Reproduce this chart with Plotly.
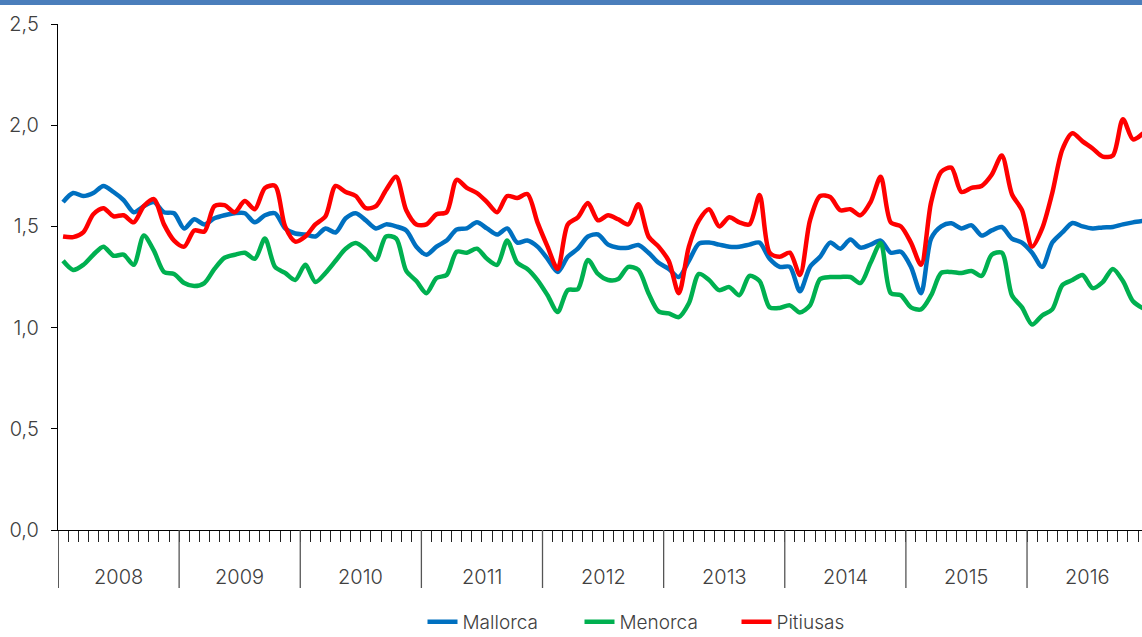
import plotly.graph_objects as go

years = ["2008", "2009", "2010", "2011", "2012", "2013", "2014", "2015", "2016"]
months_per_year = 12

mallorca = [
    1.62, 1.665, 1.65, 1.665, 1.70, 1.67, 1.63, 1.57, 1.60, 1.62, 1.57, 1.565,
    1.49, 1.535, 1.51, 1.54, 1.555, 1.565, 1.565, 1.52, 1.555, 1.565, 1.49, 1.465,
    1.46, 1.45, 1.49, 1.47, 1.54, 1.565, 1.53, 1.49, 1.51, 1.50, 1.48, 1.40,
    1.36, 1.40, 1.43, 1.485, 1.49, 1.52, 1.49, 1.46, 1.49, 1.42, 1.43, 1.40,
    1.34, 1.275, 1.35, 1.39, 1.45, 1.46, 1.41, 1.395, 1.395, 1.408, 1.37, 1.32,
    1.29, 1.25, 1.33, 1.415, 1.42, 1.41, 1.40, 1.40, 1.41, 1.42, 1.34, 1.30,
    1.30, 1.18, 1.30, 1.35, 1.42, 1.39, 1.435, 1.395, 1.41, 1.43, 1.37, 1.375,
    1.30, 1.17, 1.44, 1.50, 1.515, 1.49, 1.505, 1.455, 1.48, 1.497, 1.44, 1.42,
    1.37, 1.30, 1.42, 1.47, 1.517, 1.50, 1.49, 1.495, 1.497, 1.51, 1.52, 1.527,
]

menorca = [
    1.33, 1.285, 1.31, 1.36, 1.40, 1.355, 1.36, 1.31, 1.455, 1.38, 1.275, 1.265,
    1.22, 1.205, 1.22, 1.29, 1.345, 1.36, 1.37, 1.34, 1.44, 1.30, 1.27, 1.235,
    1.31, 1.225, 1.27, 1.33, 1.39, 1.418, 1.385, 1.335, 1.45, 1.44, 1.28, 1.23,
    1.17, 1.245, 1.26, 1.375, 1.37, 1.39, 1.34, 1.31, 1.43, 1.32, 1.29, 1.235,
    1.16, 1.077, 1.185, 1.19, 1.334, 1.265, 1.235, 1.24, 1.30, 1.285, 1.17, 1.08,
    1.07, 1.052, 1.12, 1.265, 1.235, 1.185, 1.20, 1.16, 1.255, 1.23, 1.10, 1.097,
    1.11, 1.075, 1.11, 1.24, 1.25, 1.25, 1.25, 1.22, 1.32, 1.418, 1.17, 1.16,
    1.10, 1.09, 1.16, 1.27, 1.275, 1.27, 1.28, 1.255, 1.36, 1.37, 1.16, 1.10,
    1.015, 1.06, 1.09, 1.21, 1.235, 1.26, 1.195, 1.225, 1.29, 1.23, 1.13, 1.095,
]

pitiusas = [
    1.45, 1.447, 1.47, 1.56, 1.59, 1.55, 1.555, 1.52, 1.60, 1.635, 1.51, 1.43,
    1.40, 1.48, 1.475, 1.60, 1.605, 1.57, 1.625, 1.585, 1.69, 1.70, 1.50, 1.425,
    1.45, 1.51, 1.55, 1.70, 1.67, 1.65, 1.59, 1.60, 1.68, 1.745, 1.58, 1.51,
    1.51, 1.56, 1.57, 1.73, 1.69, 1.665, 1.62, 1.57, 1.65, 1.64, 1.66, 1.52,
    1.40, 1.29, 1.51, 1.545, 1.615, 1.53, 1.555, 1.535, 1.51, 1.61, 1.45, 1.40,
    1.33, 1.17, 1.40, 1.53, 1.585, 1.50, 1.545, 1.52, 1.51, 1.655, 1.37, 1.35,
    1.37, 1.26, 1.53, 1.65, 1.645, 1.58, 1.585, 1.555, 1.62, 1.745, 1.52, 1.50,
    1.42, 1.31, 1.62, 1.77, 1.79, 1.67, 1.69, 1.70, 1.755, 1.85, 1.66, 1.58,
    1.40, 1.49, 1.665, 1.88, 1.96, 1.92, 1.885, 1.845, 1.85, 2.03, 1.93, 1.96,
]

series = [
    ("Mallorca", mallorca, "#0070C0"),
    ("Menorca", menorca, "#00B050"),
    ("Pitiusas", pitiusas, "#FF0000"),
]

n = len(mallorca)
xpos = [i + 0.5 for i in range(n)]

FONT = "Inter"
TXT = "#404040"

fig = go.Figure()
for name, vals, col in series:
    fig.add_trace(go.Scatter(
        x=xpos, y=vals, name=name, mode="lines",
        line=dict(color=col, width=4.5, shape="spline", smoothing=0.8),
    ))

W, H = 1142, 637
ml, mr, mt, mb = 58, 0, 24, 107
pw = W - ml - mr
ph = H - mt - mb

xmax = 107.39

shapes = []
# top band
shapes.append(dict(type="rect", xref="paper", yref="paper",
                   x0=-ml / pw, x1=1.0, y0=1 + (mt - 5) / ph, y1=1 + mt / ph,
                   fillcolor="#4A7EBB", line=dict(width=0), layer="above"))
# year separators
for k in range(len(years)):
    shapes.append(dict(type="line", xref="x", yref="paper",
                       x0=k * months_per_year, x1=k * months_per_year,
                       y0=0, y1=-58 / ph,
                       line=dict(color="#000000" if k == 0 else "#555555", width=1.3)))

annotations = []
for k, yr in enumerate(years):
    annotations.append(dict(x=k * months_per_year + 6, xref="x", y=-47 / ph, yref="paper",
                            text=yr, showarrow=False, yanchor="middle",
                            font=dict(family=FONT, size=20, color=TXT, weight=300)))

fig.update_layout(
    width=W, height=H,
    margin=dict(l=ml, r=mr, t=mt, b=mb, pad=0, autoexpand=False),
    paper_bgcolor="white", plot_bgcolor="white",
    separators=",.",
    showlegend=True,
    legend=dict(orientation="h", x=(658 - ml) / pw, xanchor="center",
                y=-(622 - 530) / ph, yanchor="middle",
                font=dict(family=FONT, size=19, color=TXT, weight=300),
                itemwidth=30, tracegroupgap=0, entrywidth=112),
    xaxis=dict(range=[0, xmax], showgrid=False, zeroline=False,
               showline=True, linecolor="#000000", linewidth=1.3,
               tickmode="array", tickvals=list(range(1, n)),
               ticktext=[""] * (n - 1),
               ticks="outside", ticklen=11, tickwidth=1.3, tickcolor="#222222"),
    yaxis=dict(range=[0, 2.5], showgrid=False, zeroline=False,
               showline=True, linecolor="#000000", linewidth=1.3,
               tickmode="array", tickvals=[0, 0.5, 1.0, 1.5, 2.0, 2.5],
               tickformat=".1f", ticks="outside", ticklen=6, tickwidth=1.3,
               tickcolor="#000000", ticklabelstandoff=8,
               tickfont=dict(family=FONT, size=20, color=TXT, weight=300)),
    shapes=shapes, annotations=annotations,
)

fig.write_html("out.html", config={"displayModeBar": False},
               post_script="document.body.style.margin='0';document.body.style.overflow='hidden';")
